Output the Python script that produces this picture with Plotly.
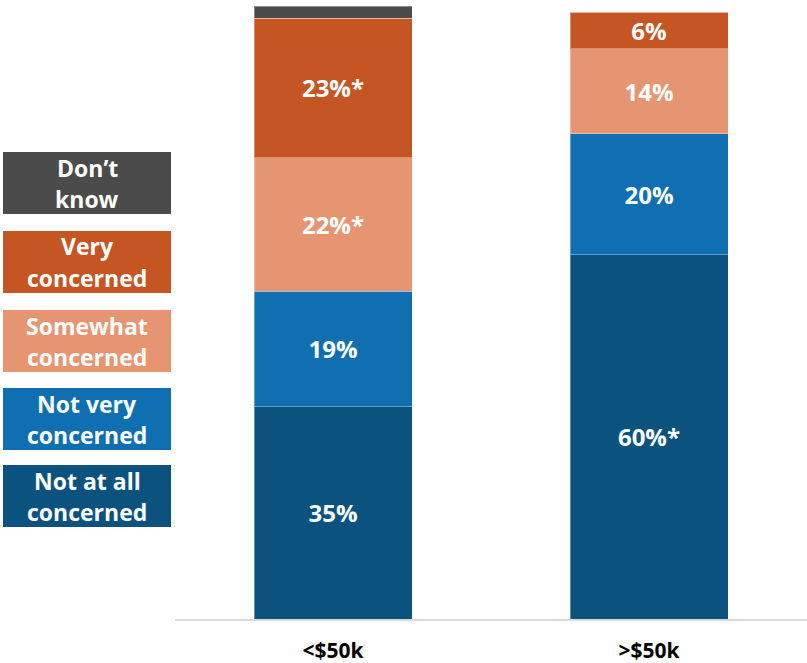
import plotly.graph_objects as go

# Income groups and share of respondents by level of concern (%)
groups = ["<$50k", ">$50k"]
not_at_all = [35, 60]
not_very = [19, 20]
somewhat = [22, 14]
very = [23, 6]
dont_know = [2, 0]

# Groups that differ significantly are flagged with an asterisk
flag_not_at_all = ["", "*"]
flag_not_very = ["", ""]
flag_somewhat = ["*", ""]
flag_very = ["*", ""]

series = [
    (["Not at all", "concerned"], not_at_all, flag_not_at_all, "#0b527f", True),
    (["Not very", "concerned"], not_very, flag_not_very, "#0f6fb1", True),
    (["Somewhat", "concerned"], somewhat, flag_somewhat, "#e69572", True),
    (["Very", "concerned"], very, flag_very, "#c55523", True),
    (["Don’t", "know"], dont_know, ["", ""], "#4b4b4b", False),
]

FONT = "Open Sans"
LABEL_SIZE = 24
W, H = 807, 663
B = 44  # bottom margin in px
PLOT_H = H - B

fig = go.Figure()
for lines, vals, flags, color, labelled in series:
    fig.add_trace(go.Bar(
        x=groups,
        y=vals,
        name=" ".join(lines),
        marker=dict(color=color, line=dict(color="rgba(255,255,255,0.35)", width=1)),
        width=0.5,
        customdata=flags,
        texttemplate="%{y}%%{customdata}" if labelled else "",
        textposition="inside",
        insidetextanchor="middle",
        textangle=0,
        constraintext="none",
        textfont=dict(family=FONT, size=LABEL_SIZE, color="white", weight=700),
        hoverinfo="skip",
    ))

# Legend drawn as coloured boxes with centred white labels, top to bottom
legend_boxes = [(152, 214), (231, 293), (310, 372), (388, 450), (465, 527)]
LINE_GAP = 15.5  # px from box centre to each text line
shapes = []
annotations = []
for (lines, _, _, color, _), (top, bottom) in zip(series[::-1], legend_boxes):
    shapes.append(dict(type="rect", xref="paper", yref="paper",
                       x0=3 / W, x1=171 / W,
                       y0=(PLOT_H - bottom) / PLOT_H, y1=(PLOT_H - top) / PLOT_H,
                       fillcolor=color, line=dict(width=0), layer="above"))
    mid = (top + bottom) / 2
    for text, py in zip(lines, (mid - LINE_GAP, mid + LINE_GAP)):
        annotations.append(dict(xref="paper", yref="paper", x=87 / W, y=(PLOT_H - py) / PLOT_H,
                                text=text, showarrow=False, xanchor="center", yanchor="middle",
                                font=dict(family=FONT, size=23, color="white", weight=700)))

fig.update_layout(
    barmode="stack",
    width=W, height=H,
    margin=dict(l=0, r=0, t=0, b=B),
    paper_bgcolor="white",
    plot_bgcolor="white",
    showlegend=False,
    shapes=shapes,
    annotations=annotations,
    xaxis=dict(
        domain=[175 / W, 1],
        range=[-0.5, 1.5],
        showline=True, linecolor="#d9d9d9", linewidth=2,
        showgrid=False, zeroline=False,
        ticks="outside", ticklen=12, tickcolor="rgba(0,0,0,0)",
        tickfont=dict(family=FONT, size=21, color="black", weight=700),
    ),
    yaxis=dict(range=[0, 102], visible=False),
)

fig.write_html("out.html")
